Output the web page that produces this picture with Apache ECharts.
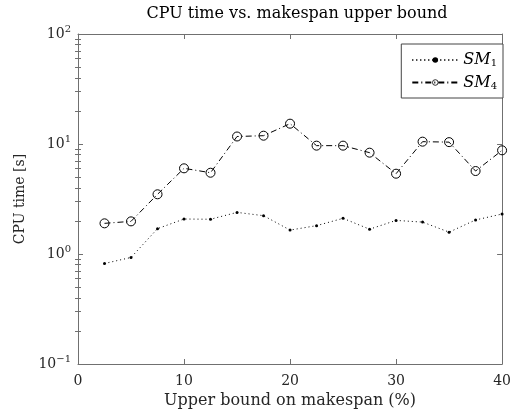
<!DOCTYPE html>
<html><head><meta charset="utf-8">
<script src="https://cdn.jsdelivr.net/npm/echarts@6/dist/echarts.min.js"></script>
<style>html,body{margin:0;padding:0;background:#fff}#c{width:514px;height:414px}</style>
</head><body><div id="c"></div>
<script>
const xValues = [2.5, 5, 7.5, 10, 12.5, 15, 17.5, 20, 22.5, 25, 27.5, 30, 32.5, 35, 37.5, 40];
const sm1 = [0.82, 0.93, 1.70, 2.08, 2.07, 2.39, 2.23, 1.65, 1.81, 2.11, 1.68, 2.02, 1.95, 1.58, 2.04, 2.31];
const sm4 = [1.90, 1.98, 3.49, 6.01, 5.48, 11.7, 11.9, 15.3, 9.66, 9.66, 8.34, 5.37, 10.5, 10.4, 5.68, 8.76];
const xTicks = [0, 10, 20, 30, 40];
const yMajor = [0.1, 1, 10, 100];
const yMinor = [0.2,0.3,0.4,0.5,0.6,0.7,0.8,0.9,2,3,4,5,6,7,8,9,20,30,40,50,60,70,80,90];
const seriesNames = ['SM1', 'SM4'];

const FONT = 'DejaVu Serif';
const frame = '#707070';
const txt = '#262626';

function pair(a, b) { return a.map((v, i) => [v, b[i]]); }

const chart = echarts.init(document.getElementById('c'), null, {renderer: 'canvas'});
const yBase = {
  type: 'log', logBase: 10, min: 0.1, max: 100, gridIndex: 0,
  splitLine: {show: false}, minorTick: {show: false}
};
chart.setOption({
  backgroundColor: '#fff',
  animation: false,
  title: {
    text: 'CPU time vs. makespan upper bound', left: 292, textAlign: 'center', top: 1,
    textStyle: {fontFamily: FONT, fontSize: 16, fontWeight: 'normal', color: '#000'}
  },
  grid: {left: 78, right: 8, top: 34, bottom: 50, containLabel: false},
  legend: {
    orient: 'vertical', right: 11, top: 44, padding: [8, 6, 7, 10], itemGap: 6,
    itemWidth: 46, itemHeight: 7,
    backgroundColor: '#fff', borderColor: '#444', borderWidth: 1, borderRadius: 0,
    itemStyle: {borderWidth: 0.8},
    data: seriesNames,
    formatter: function (n) { return '{i|SM}{s|' + n.slice(2) + '}'; },
    textStyle: {
      fontFamily: FONT, color: '#000',
      rich: {
        i: {fontFamily: FONT, fontStyle: 'italic', fontSize: 16, color: '#000'},
        s: {fontFamily: FONT, fontSize: 10, color: '#000', padding: [7, 0, 0, 0]}
      }
    }
  },
  xAxis: [
    {
      type: 'value', min: 0, max: 40, interval: 10, position: 'bottom',
      axisLine: {show: true, onZero: false, lineStyle: {color: frame, width: 1}},
      axisTick: {show: true, inside: true, length: 5, customValues: xTicks, lineStyle: {color: frame}},
      axisLabel: {customValues: xTicks, fontFamily: FONT, fontSize: 14, color: txt, margin: 10},
      splitLine: {show: false},
      name: 'Upper bound on makespan (%)', nameLocation: 'middle', nameGap: 28,
      nameTextStyle: {fontFamily: FONT, fontSize: 16, color: txt}
    },
    {
      type: 'value', min: 0, max: 40, interval: 10, position: 'top',
      axisLine: {show: true, onZero: false, lineStyle: {color: frame, width: 1}},
      axisTick: {show: true, inside: true, length: 5, customValues: xTicks, lineStyle: {color: frame}},
      axisLabel: {show: false}, splitLine: {show: false}
    }
  ],
  yAxis: [
    Object.assign({}, yBase, {
      position: 'left',
      axisLine: {show: true, onZero: false, lineStyle: {color: frame, width: 1}},
      axisTick: {show: true, inside: true, length: 5, customValues: yMajor, lineStyle: {color: frame}},
      axisLabel: {
        customValues: yMajor, margin: 7, color: txt,
        formatter: function (v) {
          const e = Math.round(Math.log10(v));
          return '{b|10}{e|' + (e < 0 ? '\u2212' + (-e) : e) + '}';
        },
        rich: {
          b: {fontFamily: FONT, fontSize: 14, color: txt},
          e: {fontFamily: FONT, fontSize: 10, color: txt, padding: [0, 0, 9, 0]}
        }
      },
      name: 'CPU time [s]', nameLocation: 'middle', nameGap: 50, nameRotate: 90,
      nameTextStyle: {fontFamily: FONT, fontSize: 14, color: txt}
    }),
    Object.assign({}, yBase, {
      position: 'left',
      axisLine: {show: false},
      axisTick: {show: true, inside: true, length: 3, customValues: yMinor, lineStyle: {color: frame}},
      axisLabel: {show: false}
    }),
    Object.assign({}, yBase, {
      position: 'right',
      axisLine: {show: true, onZero: false, lineStyle: {color: frame, width: 1}},
      axisTick: {show: true, inside: true, length: 5, customValues: yMajor, lineStyle: {color: frame}},
      axisLabel: {show: false}
    }),
    Object.assign({}, yBase, {
      position: 'right',
      axisLine: {show: false},
      axisTick: {show: true, inside: true, length: 3, customValues: yMinor, lineStyle: {color: frame}},
      axisLabel: {show: false}
    })
  ],
  series: [
    {
      name: seriesNames[0], type: 'line', xAxisIndex: 0, yAxisIndex: 0,
      data: pair(xValues, sm1),
      symbol: 'circle', symbolSize: 3,
      lineStyle: {color: '#000', width: 1, type: [1, 3]},
      itemStyle: {color: '#000'}
    },
    {
      name: seriesNames[1], type: 'line', xAxisIndex: 0, yAxisIndex: 0,
      data: pair(xValues, sm4),
      symbol: 'circle', symbolSize: 9,
      lineStyle: {color: '#000', width: 1, type: [6, 3, 1, 3]},
      itemStyle: {color: 'rgba(0,0,0,0)', borderColor: '#000', borderWidth: 1}
    }
  ]
});
</script></body></html>
